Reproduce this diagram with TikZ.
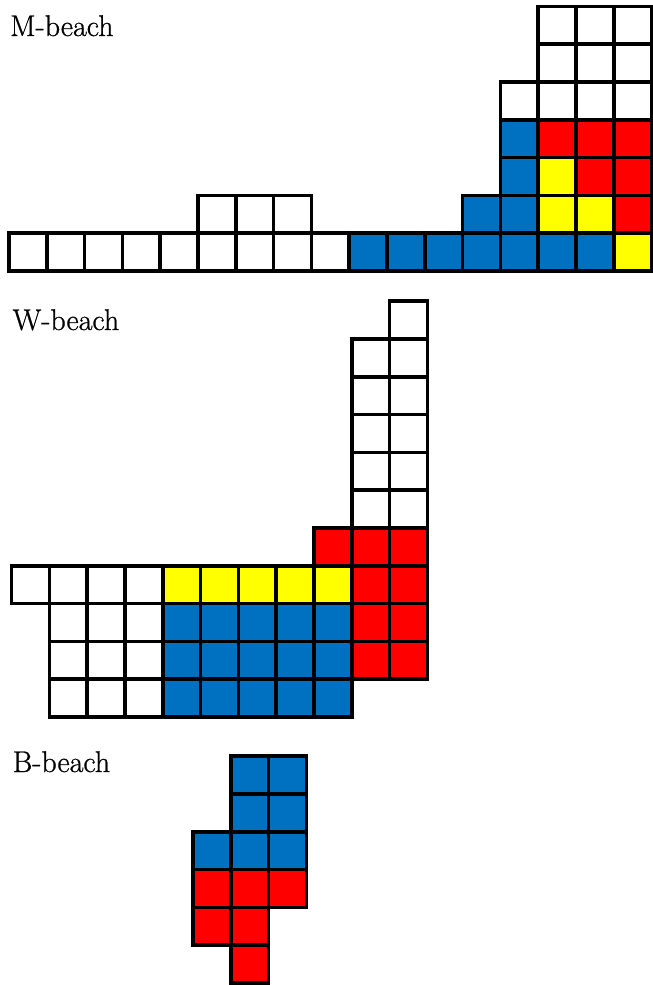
\documentclass[tikz,border=0pt]{standalone}
\usepackage{fontspec}
\newfontfamily\tmsfont{Latin Modern Roman}[FakeBold=0.8]
\definecolor{cblue}{HTML}{0070C0}
\definecolor{cred}{HTML}{FF0000}
\definecolor{cyellow}{HTML}{FFFF00}
\tikzset{
  cellbox/.style={draw=black, line width=3.6pt, line join=miter},
  lbl/.style={anchor=base west, inner sep=0pt, font=\tmsfont\fontsize{30}{36}\selectfont}
}
\newcommand\cs{37.8}
% #1 origin x, #2 origin y (bottom), #3 list of col/row, #4 colour
\newcommand\cellset[4]{%
  \foreach \c/\r in {#3} {
    \filldraw[cellbox, fill=#4] ({#1+\c*\cs},{#2-(\r+1)*\cs}) rectangle ++(\cs,\cs);
  }%
}
\begin{document}
\begin{tikzpicture}[x=1pt, y=-1pt]
\useasboundingbox (0,0) rectangle (653,985);
% ---------- M-beach ----------
\node[lbl] (mlabel) at (10,36) {M-beach};
\cellset{9}{271}{0/0,1/0,2/0,3/0,4/0,5/0,6/0,7/0,8/0,5/1,6/1,7/1,13/4,14/4,15/4,16/4,14/5,15/5,16/5,14/6,15/6,16/6}{white}
\cellset{9}{271}{9/0,10/0,11/0,12/0,13/0,14/0,15/0,12/1,13/1,13/2,13/3}{cblue}
\cellset{9}{271}{16/0,14/1,15/1,14/2}{cyellow}
\cellset{9}{271}{16/1,15/2,16/2,14/3,15/3,16/3}{cred}
% ---------- W-beach ----------
\node[lbl] (wlabel) at (12.5,330) {W-beach};
\cellset{11.5}{717}{1/0,2/0,3/0,1/1,2/1,3/1,1/2,2/2,3/2,0/3,1/3,2/3,3/3,9/5,10/5,9/6,10/6,9/7,10/7,9/8,10/8,9/9,10/9,10/10}{white}
\cellset{11.5}{717}{4/0,5/0,6/0,7/0,8/0,4/1,5/1,6/1,7/1,8/1,4/2,5/2,6/2,7/2,8/2}{cblue}
\cellset{11.5}{717}{4/3,5/3,6/3,7/3,8/3}{cyellow}
\cellset{11.5}{717}{9/1,10/1,9/2,10/2,9/3,10/3,8/4,9/4,10/4}{cred}
% ---------- B-beach ----------
\node[lbl] (blabel) at (12.5,772) {B-beach};
\cellset{193}{983}{1/5,2/5,1/4,2/4,0/3,1/3,2/3}{cblue}
\cellset{193}{983}{0/2,1/2,2/2,0/1,1/1,1/0}{cred}
\end{tikzpicture}
\end{document}
